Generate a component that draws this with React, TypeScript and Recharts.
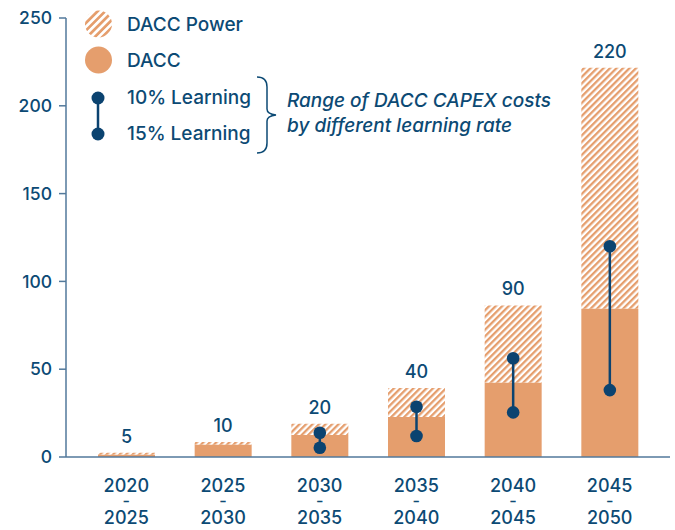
import React from 'react';
import { ComposedChart, Bar, XAxis, YAxis, LabelList } from 'recharts';

const startYears = ['2020', '2025', '2030', '2035', '2040', '2045'];
const endYears = ['2025', '2030', '2035', '2040', '2045', '2050'];
const dacc = [1.3, 7, 12.5, 22.8, 42.3, 84.4];
const daccPower = [1.1, 1.5, 6.5, 16.5, 44, 137.2];
const totalLabels = [5, 10, 20, 40, 90, 220];
const learning10 = [null, null, 13.8, 28.6, 56.2, 120];
const learning15 = [null, null, 5.3, 12, 25.4, 38.1];
const yTicks = [0, 50, 100, 150, 200, 250];

const NAVY = '#0c4a74';
const DOT = '#0b4370';
const ORANGE = '#e59e6d';
const AXIS = '#52799b';
const FONT = 'Inter, "Noto Sans", sans-serif';

const data = startYears.map((s, i) => ({
  period: s,
  end: endYears[i],
  dacc: dacc[i],
  power: daccPower[i],
  label: totalLabels[i],
  l10: learning10[i],
  l15: learning15[i],
}));

// period label: start year, small dash, end year
const PeriodTick = (props: any) => {
  const { x, y, payload, index } = props;
  const t = { textAnchor: 'middle', fill: NAVY, fontFamily: FONT } as const;
  return (
    <g>
      <text x={x} y={y + 34.5} fontSize={18} fontWeight={500} {...t}>
        {payload.value}
      </text>
      <text
        x={x}
        y={y + 46.8}
        fontSize={8}
        fontWeight={700}
        stroke={NAVY}
        strokeWidth={0.6}
        textLength={6}
        lengthAdjust="spacingAndGlyphs"
        {...t}
      >
        -
      </text>
      <text x={x} y={y + 66.5} fontSize={18} fontWeight={500} {...t}>
        {endYears[index]}
      </text>
    </g>
  );
};

const RangeShape = (props: any) => {
  const { x, y, width, height, payload } = props;
  if (!payload || payload.l10 == null) return null;
  const cx = x + width / 2;
  return (
    <g>
      <line x1={cx} x2={cx} y1={y} y2={y + height} stroke={DOT} strokeWidth={2.5} />
      <circle cx={cx} cy={y} r={6.3} fill={DOT} />
      <circle cx={cx} cy={y + height} r={6.3} fill={DOT} />
    </g>
  );
};

function Legend() {
  const txt = { fontSize: 19, fontWeight: 500, fill: NAVY, fontFamily: FONT } as const;
  return (
    <svg
      width={675}
      height={530}
      style={{ position: 'absolute', left: 0, top: 0, pointerEvents: 'none' }}
    >
      <defs>
        <pattern id="hatchLegend" patternUnits="userSpaceOnUse" width={5.4} height={5.4} patternTransform="rotate(45)">
          <rect x={0} y={0} width={2.7} height={5.4} fill={ORANGE} />
        </pattern>
      </defs>
      <circle cx={98.5} cy={24} r={13.5} fill="url(#hatchLegend)" />
      <text x={127} y={31} {...txt}>DACC Power</text>
      <circle cx={98.5} cy={60} r={13.5} fill={ORANGE} />
      <text x={127} y={67} {...txt}>DACC</text>
      <line x1={98} x2={98} y1={98} y2={134} stroke={DOT} strokeWidth={2.5} />
      <circle cx={98} cy={98} r={6.5} fill={DOT} />
      <circle cx={98} cy={134} r={6.5} fill={DOT} />
      <text x={127} y={104} {...txt}>10% Learning</text>
      <text x={127} y={140} {...txt}>15% Learning</text>
      <path
        d="M257,77 Q267,77 267,87 L267,109 Q267,114 276,115 Q267,116 267,121 L267,143 Q267,153 257,153"
        fill="none"
        stroke={NAVY}
        strokeWidth={1.5}
      />
      <text x={287} y={107} {...txt} fontStyle="italic">Range of DACC CAPEX costs</text>
      <text x={287} y={132} {...txt} fontStyle="italic">by different learning rate</text>
    </svg>
  );
}

export default function App() {
  return (
    <div style={{ position: 'absolute', left: 0, top: 0, width: 675, height: 530, background: '#fff' }}>
      <ComposedChart
        width={675}
        height={530}
        data={data}
        margin={{ top: 18, right: 5, bottom: 0, left: 0 }}
        barGap={-57}
      >
        <defs>
          <pattern id="hatch" patternUnits="userSpaceOnUse" width={4.6} height={4.6} patternTransform="rotate(45)">
            <rect x={0} y={0} width={2.3} height={4.6} fill={ORANGE} />
          </pattern>
        </defs>
        <XAxis
          dataKey="period"
          height={73}
          tickSize={0}
          tickMargin={0}
          tickLine={false}
          stroke={AXIS}
          strokeWidth={1.5}
          padding={{ left: 12, right: 12 }}
          tick={<PeriodTick />}
          interval={0}
        />
        <YAxis
          width={66}
          domain={[0, 250]}
          ticks={yTicks}
          tickSize={7}
          tickMargin={7}
          stroke={AXIS}
          strokeWidth={1.5}
          tick={{ fontSize: 17.5, fontWeight: 500, fill: NAVY, fontFamily: FONT }}
          interval={0}
        />
        <Bar dataKey="dacc" stackId="a" fill={ORANGE} barSize={57} isAnimationActive={false} />
        <Bar dataKey="power" stackId="a" fill="url(#hatch)" barSize={57} isAnimationActive={false}>
          <LabelList
            dataKey="label"
            position="top"
            offset={10}
            fill={NAVY}
            fontSize={18}
            fontWeight={500}
            fontFamily={FONT}
          />
        </Bar>
        <Bar
          dataKey={(d: any) => (d.l10 == null ? null : [d.l15, d.l10])}
          barSize={57}
          shape={<RangeShape />}
          isAnimationActive={false}
        />
      </ComposedChart>
      <Legend />
    </div>
  );
}
